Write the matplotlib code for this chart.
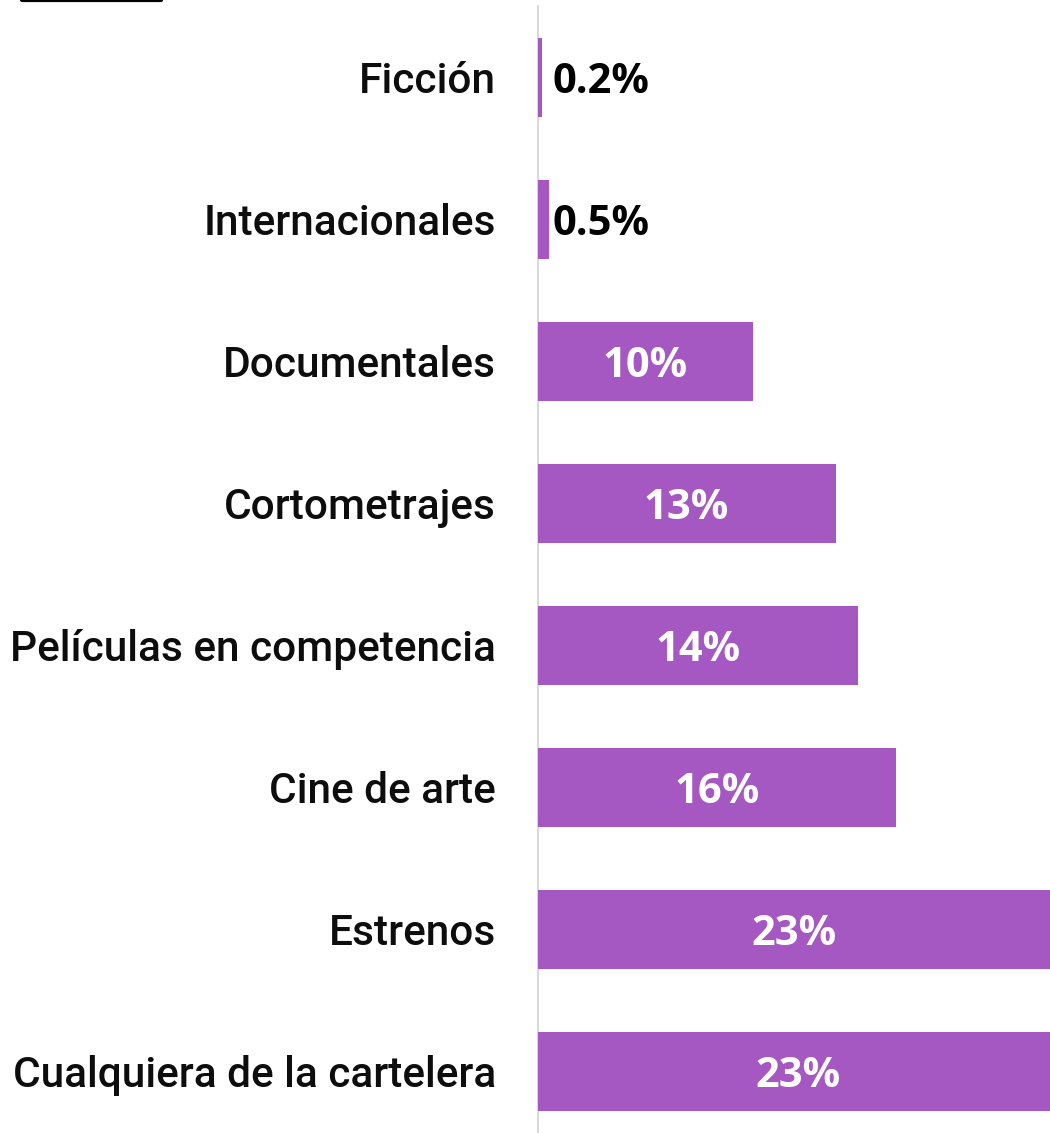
import numpy as np
import matplotlib
matplotlib.use("Agg")
import matplotlib.pyplot as plt
from matplotlib.lines import Line2D

# datos
categorias = ['Ficción', 'Internacionales', 'Documentales', 'Cortometrajes',
              'Películas en competencia', 'Cine de arte', 'Estrenos',
              'Cualquiera de la cartelera']
valores = [0.2, 0.5, 9.6, 13.3, 14.3, 16.0, 22.9, 23.2]
etiquetas = ['0.2%', '0.5%', '10%', '13%', '14%', '16%', '23%', '23%']

COLOR_BARRA = '#A557C2'
W, H = 1050, 1133

fig = plt.figure(figsize=(W / 100, H / 100), dpi=100)
ax = fig.add_axes([537.5 / W, 0, 1 - 537.5 / W, (H - 6) / H])

y = np.arange(len(categorias))
ax.barh(y, valores, height=0.556, color=COLOR_BARRA, zorder=1)

ax.set_xlim(0, 512 / 22.4)
ax.set_ylim(7.433, -0.5)

# etiquetas de valor: fuera (negro) si la barra es muy corta, dentro (blanco) si no
for yi, v, lab in zip(y, valores, etiquetas):
    if v < 1:
        ax.annotate(lab, (0, yi), xytext=(11, -11.5), textcoords='offset points',
                    ha='left', va='baseline', fontsize=30, fontweight='bold',
                    family='Open Sans', color='black')
    else:
        ax.annotate(lab, (v / 2, yi), xytext=(0, -11.5), textcoords='offset points',
                    ha='center', va='baseline', fontsize=30, fontweight='bold',
                    family='Open Sans', color='white')

ax.set_yticks(y)
ax.set_yticklabels(categorias, fontsize=30.5, family='Roboto', fontweight='medium',
                   color='#0d0d0d')
ax.tick_params(axis='y', length=0, pad=30)
ax.set_xticks([])

for s in ['top', 'right', 'bottom']:
    ax.spines[s].set_visible(False)
ax.spines['left'].set_color('#D9D9D9')
ax.spines['left'].set_linewidth(1.5)
ax.spines['left'].set_zorder(0.5)

# resto de un recuadro cortado arriba a la izquierda
fig.add_artist(Line2D([22 / W, 161 / W], [1, 1], lw=3, color='black',
                      solid_capstyle='round', transform=fig.transFigure))

fig.savefig('out.png', dpi=100)
